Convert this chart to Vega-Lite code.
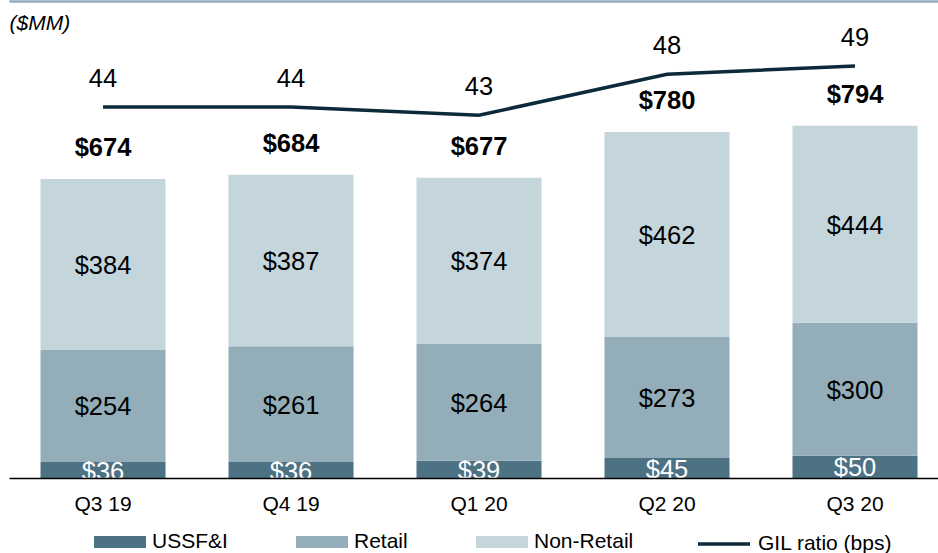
{
  "$schema": "https://vega.github.io/schema/vega-lite/v6.json",
  "width": 929,
  "height": 458,
  "autosize": {"type": "none"},
  "padding": {"left": 9, "top": 20, "right": 0, "bottom": 75},
  "config": {"font": "Liberation Sans", "view": {"stroke": null}, "text": {"font": "Liberation Sans"}},
  "datasets": {
    "bars": [
      {"quarter": "Q3 19", "segment": "USSF&I", "value": 36},
      {"quarter": "Q3 19", "segment": "Retail", "value": 254},
      {"quarter": "Q3 19", "segment": "Non-Retail", "value": 384},
      {"quarter": "Q4 19", "segment": "USSF&I", "value": 36},
      {"quarter": "Q4 19", "segment": "Retail", "value": 261},
      {"quarter": "Q4 19", "segment": "Non-Retail", "value": 387},
      {"quarter": "Q1 20", "segment": "USSF&I", "value": 39},
      {"quarter": "Q1 20", "segment": "Retail", "value": 264},
      {"quarter": "Q1 20", "segment": "Non-Retail", "value": 374},
      {"quarter": "Q2 20", "segment": "USSF&I", "value": 45},
      {"quarter": "Q2 20", "segment": "Retail", "value": 273},
      {"quarter": "Q2 20", "segment": "Non-Retail", "value": 462},
      {"quarter": "Q3 20", "segment": "USSF&I", "value": 50},
      {"quarter": "Q3 20", "segment": "Retail", "value": 300},
      {"quarter": "Q3 20", "segment": "Non-Retail", "value": 444}
    ],
    "gil": [
      {"quarter": "Q3 19", "ratio": 44},
      {"quarter": "Q4 19", "ratio": 44},
      {"quarter": "Q1 20", "ratio": 43},
      {"quarter": "Q2 20", "ratio": 48},
      {"quarter": "Q3 20", "ratio": 49}
    ]
  },
  "layer": [
    {
      "data": {"name": "bars"},
      "encoding": {
        "x": {
          "field": "quarter", "type": "nominal", "sort": null,
          "scale": {"domain": ["Q3 19", "Q4 19", "Q1 20", "Q2 20", "Q3 20"], "paddingInner": 0.335, "paddingOuter": 0.1383, "align": 0.606},
          "axis": {"orient": "bottom", "title": null, "ticks": false, "tickSize": 0, "labelFontSize": 21, "labelColor": "black", "labelPadding": 15, "labelBaseline": "top", "labelAngle": 0, "domainColor": "black", "domainWidth": 1.5, "zindex": 1, "grid": false}
        }
      },
      "layer": [
        {
          "mark": {"type": "bar"},
          "encoding": {
            "y": {
              "field": "value", "type": "quantitative", "stack": "zero",
              "scale": {"domain": [0, 1032.7], "nice": false},
              "axis": null
            },
            "fill": {
              "field": "segment", "type": "nominal",
              "scale": {"domain": ["USSF&I", "Retail", "Non-Retail"], "range": ["#4d7284", "#93adb9", "#c5d5dc"]},
              "legend": {"orient": "none", "legendX": 85, "legendY": 496, "direction": "horizontal", "title": null, "symbolType": "M-1,-0.23H1V0.23H-1Z", "symbolSize": 2704, "symbolStrokeWidth": 0, "labelFontSize": 21, "labelOffset": 6, "columnPadding": 68, "labelColor": "black"}
            },
            "order": {"field": "segment", "sort": "descending"}
          }
        },
        {
          "mark": {"type": "text", "fontSize": 25.5, "baseline": "alphabetic", "dy": 9.5},
          "encoding": {
            "y": {"field": "value", "type": "quantitative", "stack": "zero", "bandPosition": 0.5, "axis": null},
            "detail": {"field": "segment"},
            "order": {"field": "segment", "sort": "descending"},
            "text": {"field": "value", "type": "quantitative", "format": "$d"},
            "fill": {"condition": {"test": "datum.segment === 'USSF&I'", "value": "white"}, "value": "black"}
          }
        },
        {
          "mark": {"type": "text", "fontSize": 25.5, "fontWeight": "bold", "baseline": "alphabetic", "dy": -23, "color": "black"},
          "encoding": {
            "y": {"aggregate": "sum", "field": "value", "type": "quantitative", "axis": null},
            "text": {"aggregate": "sum", "field": "value", "type": "quantitative", "format": "$d"}
          }
        }
      ]
    },
    {
      "data": {"name": "gil"},
      "encoding": {
        "x": {
          "field": "quarter", "type": "nominal", "sort": null,
          "scale": {"domain": ["Q3 19", "Q4 19", "Q1 20", "Q2 20", "Q3 20"], "paddingInner": 0.335, "paddingOuter": 0.1383, "align": 0.606},
          "axis": {"orient": "top", "offset": 19, "title": "($MM)", "titleX": 0, "titleY": 28, "titleAlign": "left", "titleAngle": 0, "titleBaseline": "alphabetic", "titleFontSize": 21, "titleFontStyle": "italic", "titleFontWeight": "normal", "titleColor": "black", "labels": false, "ticks": false, "domainColor": "#94aabb", "domainWidth": 2.5, "grid": false}
        },
        "y": {"field": "ratio", "type": "quantitative", "scale": {"domain": [-1.24, 54.61], "nice": false, "zero": false}, "axis": null}
      },
      "layer": [
        {
          "mark": {"type": "line", "strokeWidth": 3.5},
          "encoding": {
            "stroke": {
              "datum": "GIL ratio (bps)", "type": "nominal",
              "scale": {"range": ["#0c2a3a"]},
              "legend": {"orient": "none", "legendX": 687, "legendY": 496, "direction": "horizontal", "title": null, "symbolType": "M-1,0H1", "symbolSize": 2704, "symbolStrokeWidth": 3.5, "labelFontSize": 21, "labelOffset": 6, "labelColor": "black"}
            }
          }
        },
        {
          "mark": {"type": "text", "fontSize": 25.5, "baseline": "alphabetic", "dy": -20, "color": "black"},
          "encoding": {
            "text": {"field": "ratio", "type": "quantitative"}
          }
        }
      ]
    }
  ],
  "resolve": {"scale": {"y": "independent"}, "axis": {"x": "independent"}}
}
